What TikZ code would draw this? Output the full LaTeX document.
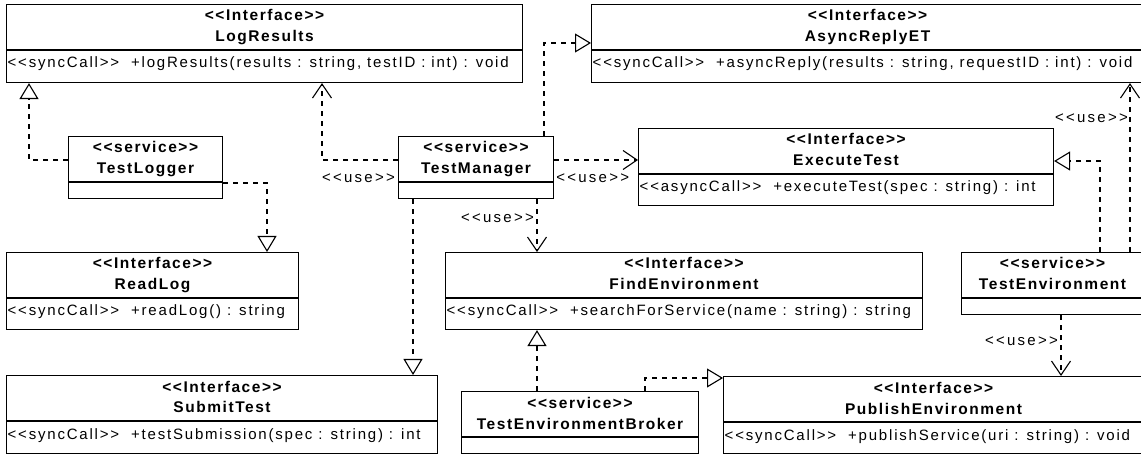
\documentclass[tikz,border=0pt]{standalone}
\usepackage{fontspec}
\setmainfont{Liberation Sans}
\newfontfamily\opfont[LetterSpace=12]{Liberation Sans}
\newfontfamily\headfont[LetterSpace=10]{Liberation Sans}
\newfontfamily\uselabelfont[LetterSpace=15]{Liberation Sans}
\usetikzlibrary{arrows.meta}

% stereotype brackets
\newcommand{\umlst}[1]{<<#1>>}
% class box: id, x, y, width, height, stereotype, name, operation
\newcommand{\classbox}[8]{%
  \node[frame, minimum width=#4pt, minimum height=#5pt, anchor=north west] (#1) at (#2,#3) {};
  \draw[thick line] ([yshift=-46pt]#1.north west) -- ([yshift=-46pt]#1.north east);
  \node[headtext, anchor=base] (#1-st) at ([yshift=-17pt]#1.north) {\umlst{#6}};
  \node[headtext, anchor=base] (#1-nm) at ([yshift=-38pt]#1.north) {#7};
  \node[optext, anchor=base west] (#1-op) at ([yshift=-64pt]#1.north west) {#8};
}

\tikzset{
  thick line/.style={line width=1.1pt},
  frame/.style={draw, thick line, rectangle, inner sep=0pt},
  headtext/.style={inner sep=0pt, font=\headfont\bfseries\fontsize{15.5}{18}\selectfont},
  optext/.style={inner sep=1.5pt, font=\opfont\fontsize{15}{18}\selectfont},
  usetext/.style={inner sep=0pt, font=\uselabelfont\fontsize{15}{18}\selectfont},
  real/.style={thick line, dash pattern=on 5pt off 5pt, -{Triangle[open, length=16pt, width=19pt]}},
  use/.style={thick line, dash pattern=on 5pt off 5pt, -{Straight Barb[length=14pt, width=19pt]}},
}

\begin{document}
\begin{tikzpicture}[x=1pt, y=-1pt]
  \useasboundingbox (0,0) rectangle (1141,454);
  \clip (0,0) rectangle (1141,454);

  % interfaces
  \classbox{lr}{6}{4}{516}{78}{Interface}{LogResults}{\umlst{syncCall} \ +logResults(results : string, testID : int) : void}
  \classbox{ar}{591}{4}{552}{78}{Interface}{AsyncReplyET}{\umlst{syncCall} \ +asyncReply(results : string, requestID : int) : void}
  \classbox{et}{638}{128}{415}{77}{Interface}{ExecuteTest}{\umlst{asyncCall} \ +executeTest(spec : string) : int}
  \classbox{rl}{6}{252}{292}{77}{Interface}{ReadLog}{\umlst{syncCall} \ +readLog() : string}
  \classbox{fe}{445}{252}{477}{77}{Interface}{FindEnvironment}{\umlst{syncCall} \ +searchForService(name : string) : string}
  \classbox{st}{6}{375}{431}{78}{Interface}{SubmitTest}{\umlst{syncCall} \ +testSubmission(spec : string) : int}
  \classbox{pe}{723}{376}{420}{77}{Interface}{PublishEnvironment}{\umlst{syncCall} \ +publishService(uri : string) : void}

  % services
  \classbox{tl}{68}{136}{154}{62}{service}{TestLogger}{}
  \classbox{tm}{398}{136}{155}{62}{service}{TestManager}{}
  \classbox{te}{961}{252}{182}{62}{service}{TestEnvironment}{}
  \classbox{tb}{461}{391}{237}{62}{service}{TestEnvironmentBroker}{}

  % realizations
  \draw[real] ([yshift=-24pt]tl.north west) -| ([xshift=23pt]lr.south west);
  \draw[real] ([yshift=-47pt]tl.north east) -| ([xshift=261pt]rl.north west);
  \draw[real] ([xshift=146pt]tm.north west) |- ([yshift=-39pt]ar.north west);
  \draw[real] ([xshift=15pt]tm.south west) -- ([xshift=407pt]st.north west);
  \draw[real] ([xshift=139pt]te.north west) |- ([yshift=-33pt]et.north east);
  \draw[real] ([xshift=76pt]tb.north west) -- ([xshift=92pt]fe.south west);
  \draw[real] ([xshift=184pt]tb.north west) |- ([yshift=-2pt]pe.north west);

  % usages
  \draw[use] ([yshift=-24pt]tm.north west) -| ([xshift=316pt]lr.south west);
  \draw[use] ([yshift=-24pt]tm.north east) -- ([yshift=-32pt]et.north west);
  \draw[use] ([xshift=139pt]tm.south west) -- ([xshift=92pt]fe.north west);
  \draw[use] ([xshift=169pt]te.north west) -- ([xshift=539pt]ar.south west);
  \draw[use] ([xshift=100pt]te.south west) -- ([xshift=338pt]pe.north west);

  \node[usetext, anchor=east] (u1) at ([xshift=-3pt, yshift=-42pt]tm.north west) {\umlst{use}};
  \node[usetext, anchor=west] (u2) at ([xshift=2pt, yshift=-42pt]tm.north east) {\umlst{use}};
  \node[usetext, anchor=east] (u3) at ([xshift=136pt, yshift=-19pt]tm.south west) {\umlst{use}};
  \node[usetext, anchor=east] (u4) at ([xshift=537pt, yshift=-35pt]ar.south west) {\umlst{use}};
  \node[usetext, anchor=east] (u5) at ([xshift=97pt, yshift=-26pt]te.south west) {\umlst{use}};
\end{tikzpicture}
\end{document}
